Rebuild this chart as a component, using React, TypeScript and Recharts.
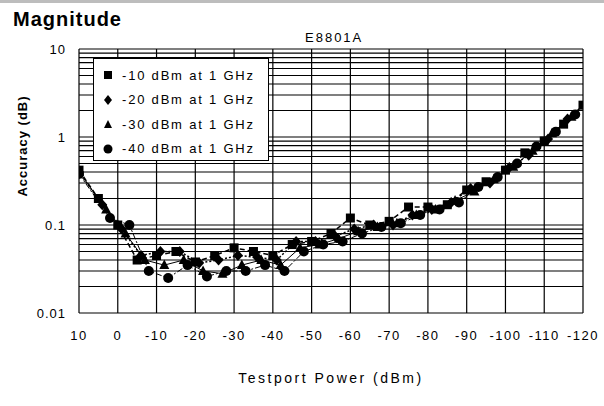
import React from "react";
import { LineChart, Line, XAxis, YAxis, CartesianGrid } from "recharts";

// ---- data ----
const seriesNames = [
  "-10 dBm at 1 GHz",
  "-20 dBm at 1 GHz",
  "-30 dBm at 1 GHz",
  "-40 dBm at 1 GHz",
];

const sqX = [10, 5, 0, -5, -10, -15, -20, -25, -30, -35, -40, -45, -50, -55, -60, -65, -70, -75, -80, -85, -90, -95, -100, -105, -110, -115, -120];
const sqY = [0.42, 0.2, 0.1, 0.04, 0.045, 0.05, 0.038, 0.045, 0.055, 0.05, 0.045, 0.06, 0.065, 0.08, 0.12, 0.1, 0.11, 0.16, 0.16, 0.17, 0.25, 0.31, 0.42, 0.66, 0.9, 1.4, 2.3];

const diX = [10, 4, -1, -6, -11, -16, -21, -26, -31, -36, -41, -46, -51, -56, -61, -66, -71, -76, -81, -86, -91, -96, -101, -106, -111, -116];
const diY = [0.4, 0.17, 0.09, 0.045, 0.05, 0.05, 0.037, 0.04, 0.045, 0.043, 0.04, 0.065, 0.065, 0.075, 0.09, 0.1, 0.1, 0.13, 0.15, 0.18, 0.26, 0.3, 0.45, 0.62, 0.95, 1.6];

const trX = [10, 3, -2, -7, -12, -17, -22, -27, -32, -37, -42, -47, -52, -57, -62, -67, -72, -77, -82, -87, -92, -97, -102, -107, -112, -117];
const trY = [0.4, 0.15, 0.08, 0.04, 0.035, 0.04, 0.03, 0.028, 0.035, 0.04, 0.035, 0.055, 0.06, 0.07, 0.085, 0.095, 0.105, 0.13, 0.15, 0.19, 0.24, 0.33, 0.46, 0.7, 1.1, 1.7];

const ciX = [10, 2, -3, -8, -13, -18, -23, -28, -33, -38, -43, -48, -53, -58, -63, -68, -73, -78, -83, -88, -93, -98, -103, -108, -113, -118];
const ciY = [0.38, 0.12, 0.1, 0.03, 0.025, 0.035, 0.026, 0.03, 0.03, 0.035, 0.03, 0.05, 0.06, 0.065, 0.08, 0.095, 0.105, 0.13, 0.15, 0.18, 0.27, 0.35, 0.5, 0.78, 1.15, 1.8];

const xTicks = [10, 0, -10, -20, -30, -40, -50, -60, -70, -80, -90, -100, -110, -120];
const yTicks = [
  0.01, 0.02, 0.03, 0.04, 0.05, 0.06, 0.07, 0.08, 0.09,
  0.1, 0.2, 0.3, 0.4, 0.5, 0.6, 0.7, 0.8, 0.9,
  1, 2, 3, 4, 5, 6, 7, 8, 9, 10,
];
const yLabels: Record<string, string> = { "0.01": "0.01", "0.1": "0.1", "1": "1", "10": "10" };

const zip = (xs: number[], ys: number[]) => xs.map((x, i) => ({ x, y: ys[i] }));
const sqData = zip(sqX, sqY);
const diData = zip(diX, diY);
const trData = zip(trX, trY);
const ciData = zip(ciX, ciY);

// ---- markers ----
const Square = (p: any) =>
  p.cx == null ? null : <rect key={p.index} x={p.cx - 4.5} y={p.cy - 4.5} width={9} height={9} fill="#000" />;
const Diamond = (p: any) =>
  p.cx == null ? null : (
    <path key={p.index} d={`M${p.cx},${p.cy - 5.5}L${p.cx + 5},${p.cy}L${p.cx},${p.cy + 5.5}L${p.cx - 5},${p.cy}Z`} fill="#000" />
  );
const Triangle = (p: any) =>
  p.cx == null ? null : (
    <path key={p.index} d={`M${p.cx},${p.cy - 5.5}L${p.cx + 5},${p.cy + 4}L${p.cx - 5},${p.cy + 4}Z`} fill="#000" />
  );
const Circle = (p: any) =>
  p.cx == null ? null : <circle key={p.index} cx={p.cx} cy={p.cy} r={5} fill="#000" />;

const FONT = "'Liberation Sans', Arial, sans-serif";

const legendMarkers = [
  <rect x={1} y={1} width={8} height={8} fill="#000" />,
  <path d="M5,0L9,5L5,10L1,5Z" fill="#000" />,
  <path d="M5,1L9,9L1,9Z" fill="#000" />,
  <circle cx={5} cy={5} r={4.5} fill="#000" />,
];

export default function App() {
  return (
    <div style={{ position: "absolute", left: 0, top: 0, width: 604, height: 406, background: "#fff", fontFamily: FONT }}>
      <div style={{ position: "absolute", left: 0, top: 0, width: 604, height: 3, background: "#bdbdbd" }} />
      <div style={{ position: "absolute", left: 13, top: 8, fontSize: 20, fontWeight: "bold", letterSpacing: 1, lineHeight: "22px" }}>
        Magnitude
      </div>
      <div style={{ position: "absolute", left: 305, top: 30, fontSize: 13, letterSpacing: 2, lineHeight: "16px" }}>
        E8801A
      </div>
      <LineChart
        width={604}
        height={406}
        margin={{ top: 49, right: 21, left: 0, bottom: 53 }}
        style={{ position: "absolute", left: 0, top: 0 }}
      >
        <CartesianGrid stroke="#000" strokeWidth={1.2} horizontalValues={yTicks} verticalValues={xTicks} />
        <XAxis
          type="number"
          dataKey="x"
          domain={[-120, 10]}
          reversed
          ticks={xTicks}
          interval={0}
          height={40}
          axisLine={false}
          tickLine={false}
          tickSize={0}
          tickMargin={18}
          tick={{ fill: "#000", fontSize: 13, fontFamily: FONT, letterSpacing: 1.5 }}
          allowDataOverflow
        />
        <YAxis
          type="number"
          scale="log"
          domain={[0.01, 10]}
          ticks={yTicks}
          interval={0}
          width={79}
          axisLine={false}
          tickLine={false}
          tickSize={0}
          tickMargin={13}
          tickFormatter={(v: number) => yLabels[String(v)] ?? ""}
          tick={{ fill: "#000", fontSize: 13, fontFamily: FONT, letterSpacing: 1 }}
          allowDataOverflow
        />
        <Line data={ciData} dataKey="y" name={seriesNames[3]} stroke="#000" strokeWidth={1} strokeDasharray="6 2 2 2" dot={Circle} isAnimationActive={false} />
        <Line data={trData} dataKey="y" name={seriesNames[2]} stroke="#000" strokeWidth={1} dot={Triangle} isAnimationActive={false} />
        <Line data={diData} dataKey="y" name={seriesNames[1]} stroke="#000" strokeWidth={1.5} strokeDasharray="2 2" dot={Diamond} isAnimationActive={false} />
        <Line data={sqData} dataKey="y" name={seriesNames[0]} stroke="#000" strokeWidth={1.5} strokeDasharray="5 3" dot={Square} isAnimationActive={false} />
      </LineChart>
      <div
        style={{
          position: "absolute",
          left: 93,
          top: 58,
          width: 176,
          height: 103,
          background: "#fff",
          border: "1px solid #000",
          boxSizing: "border-box",
        }}
      >
        {seriesNames.map((n, i) => (
          <div key={n} style={{ position: "absolute", left: 9, top: 8 + i * 24.5, height: 16, display: "flex", alignItems: "center" }}>
            <svg width={10} height={10} style={{ marginRight: 9 }}>
              {legendMarkers[i]}
            </svg>
            <span style={{ fontSize: 13, letterSpacing: 1.8, whiteSpace: "nowrap" }}>{n}</span>
          </div>
        ))}
      </div>
      <div
        style={{
          position: "absolute",
          left: 22,
          top: 146,
          transform: "translate(-50%, -50%) rotate(-90deg)",
          fontSize: 13,
          fontWeight: "bold",
          letterSpacing: 1,
          whiteSpace: "nowrap",
        }}
      >
        Accuracy (dB)
      </div>
      <div
        style={{
          position: "absolute",
          left: 331,
          top: 378,
          transform: "translate(-50%, -50%)",
          fontSize: 14,
          letterSpacing: 2.5,
          whiteSpace: "nowrap",
        }}
      >
        Testport Power (dBm)
      </div>
    </div>
  );
}
